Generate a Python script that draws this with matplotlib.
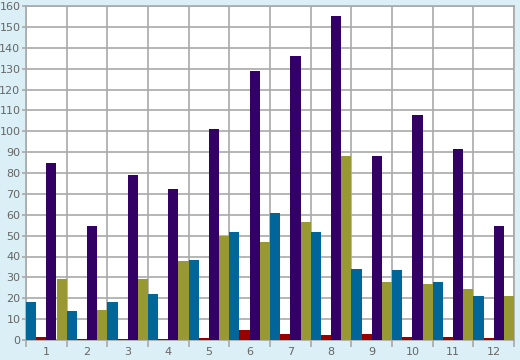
import numpy as np
import matplotlib
matplotlib.use("Agg")
import matplotlib.pyplot as plt

# данные по месяцам
months = ["1", "2", "3", "4", "5", "6", "7", "8", "9", "10", "11", "12"]
teal_vals = [18, 14, 18, 22, 38.5, 51.5, 61, 51.5, 34, 33.5, 28, 21]
red_vals = [1.5, 0.5, 0.5, 0.5, 1, 5, 3, 2.5, 3, 1.5, 1.5, 1]
purple_vals = [85, 54.5, 79, 72.5, 101, 129, 136, 155, 88, 108, 91.5, 54.5]
olive_vals = [29, 14.5, 29, 38, 50, 47, 56.5, 88, 28, 27, 24.5, 21]

series = [teal_vals, red_vals, purple_vals, olive_vals]
colors = ["#006699", "#990000", "#330066", "#999933"]

bg = "#daeff6"
grid_color = "#a9a9a9"
text_color = "#666666"

fig = plt.figure(figsize=(5.2, 3.6), dpi=100)
fig.patch.set_facecolor(bg)
ax = fig.add_axes([26 / 520, 20 / 360, 488 / 520, 334 / 360])
ax.set_facecolor("white")

x = np.arange(1, len(months) + 1)
width = 0.25
for i, (vals, c) in enumerate(zip(series, colors)):
    ax.bar(x + (i - 1.5) * width, vals, width=width, color=c, linewidth=0, zorder=3)

ax.set_xlim(0.5, 12.5)
ax.set_ylim(0, 160)

# подписи по центру группы, засечки по границам групп
ax.set_xticks(x)
ax.set_xticklabels(months)
ax.set_xticks(np.arange(0.5, 13, 1), minor=True)
ax.tick_params(axis="x", which="major", length=0, pad=5, labelsize=8, labelcolor=text_color)
ax.tick_params(axis="x", which="minor", length=5, width=1.2, color=grid_color)

ax.set_yticks(np.arange(0, 161, 10))
ax.tick_params(axis="y", length=3, width=1.2, color=grid_color, pad=1, labelsize=8, labelcolor=text_color)

ax.grid(axis="x", which="minor", color=grid_color, linewidth=1.2, zorder=0)
ax.grid(axis="y", which="major", color=grid_color, linewidth=1.2, zorder=0)
ax.set_axisbelow(True)

for s in ax.spines.values():
    s.set_color(grid_color)
    s.set_linewidth(1.2)

fig.savefig("out.png", dpi=100, facecolor=bg)
